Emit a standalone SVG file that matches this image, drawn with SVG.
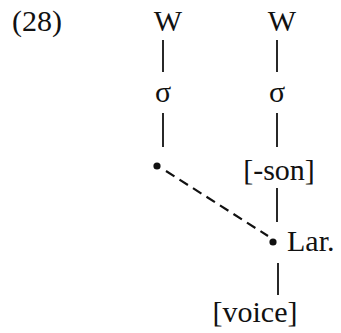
<svg xmlns="http://www.w3.org/2000/svg" width="341" height="333" viewBox="0 0 341 333" font-family="'Liberation Serif', 'Times New Roman', serif">
<style>
.t{font-family:'Liberation Serif',serif;font-size:30px;fill:#111}
.l{stroke:#111;stroke-width:1.8;fill:none}
.d{stroke:#111;stroke-width:2.2;fill:none;stroke-dasharray:10,6}
</style>
<rect width="341" height="333" fill="#fff"/>
<text class="t" x="12" y="31" font-family="Liberation Serif">(28)</text>
<g id="w1"><text class="t" x="168" y="31" text-anchor="middle">W</text></g>
<g id="w2"><text class="t" x="282" y="31" text-anchor="middle">W</text></g>
<g id="s1"><text class="t" x="163" y="102" text-anchor="middle">σ</text></g>
<g id="s2"><text class="t" x="277" y="102" text-anchor="middle">σ</text></g>
<g id="dot1"><circle cx="157" cy="166" r="3.6" fill="#111"/></g>
<g id="son"><text class="t" x="279" y="180" text-anchor="middle">[-son]</text></g>
<g id="lar"><circle cx="273" cy="242" r="3.6" fill="#111"/><text class="t" x="287" y="251">Lar.</text></g>
<g id="voice"><text class="t" x="255" y="322" text-anchor="middle">[voice]</text></g>
<g id="connectors">
<line class="l" x1="163" y1="40" x2="163" y2="72"/>
<line class="l" x1="277" y1="40" x2="277" y2="72"/>
<line class="l" x1="163" y1="113" x2="163" y2="147"/>
<line class="l" x1="277" y1="113" x2="277" y2="147"/>
<line class="l" x1="277" y1="188" x2="277" y2="222"/>
<line class="l" x1="278" y1="263" x2="278" y2="295"/>
<line class="d" x1="166" y1="171" x2="268" y2="236"/>
</g>
</svg>
